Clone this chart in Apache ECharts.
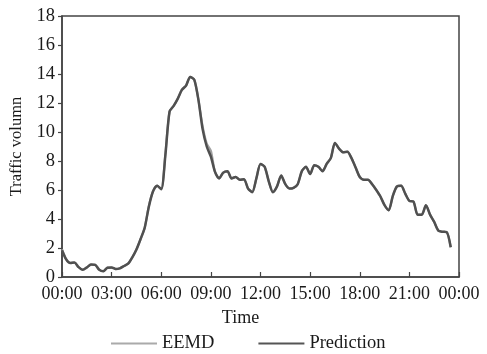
<!DOCTYPE html>
<html>
<head>
<meta charset="utf-8">
<script src="https://cdn.jsdelivr.net/npm/echarts@6/dist/echarts.min.js"></script>
<style>
  html, body { margin: 0; padding: 0; background: #fff; }
  #chart { width: 487px; height: 354px; }
</style>
</head>
<body>
<div id="chart"></div>
<script>
// Time of day in hours, sampled every 15 minutes (00:00 .. 23:30)
const hours = [
  0.00, 0.25, 0.50, 0.75, 1.00, 1.25, 1.50, 1.75, 2.00, 2.25, 2.50, 2.75,
  3.00, 3.25, 3.50, 3.75, 4.00, 4.25, 4.50, 4.75, 5.00, 5.25, 5.50, 5.75,
  6.00, 6.25, 6.50, 6.75, 7.00, 7.25, 7.50, 7.75, 8.00, 8.25, 8.50, 8.75,
  9.00, 9.25, 9.50, 9.75, 10.00, 10.25, 10.50, 10.75, 11.00, 11.25, 11.50, 11.75,
  12.00, 12.25, 12.50, 12.75, 13.00, 13.25, 13.50, 13.75, 14.00, 14.25, 14.50, 14.75,
  15.00, 15.25, 15.50, 15.75, 16.00, 16.25, 16.50, 16.75, 17.00, 17.25, 17.50, 17.75,
  18.00, 18.25, 18.50, 18.75, 19.00, 19.25, 19.50, 19.75, 20.00, 20.25, 20.50, 20.75,
  21.00, 21.25, 21.50, 21.75, 22.00, 22.25, 22.50, 22.75, 23.00, 23.25, 23.50
];

// Decomposed (EEMD) traffic volume
const eemd = [
  1.90, 1.25, 0.98, 1.00, 0.70, 0.50, 0.65, 0.85, 0.85, 0.50, 0.40, 0.65,
  0.65, 0.55, 0.60, 0.75, 0.93, 1.35, 1.90, 2.60, 3.40, 4.90, 5.90, 6.30,
  6.05, 8.50, 11.40, 11.80, 12.30, 12.95, 13.20, 13.80, 13.60, 12.20, 10.40, 9.20,
  8.70, 7.25, 6.80, 7.20, 7.30, 6.80, 6.90, 6.70, 6.75, 6.10, 5.85, 6.80,
  7.80, 7.60, 6.60, 5.85, 6.25, 7.00, 6.40, 6.10, 6.15, 6.40, 7.30, 7.60,
  7.10, 7.70, 7.60, 7.30, 7.80, 8.20, 9.25, 8.85, 8.60, 8.64, 8.20, 7.55,
  6.90, 6.70, 6.70, 6.40, 6.00, 5.55, 4.95, 4.60, 5.60, 6.25, 6.30, 5.75,
  5.25, 5.20, 4.30, 4.30, 4.95, 4.30, 3.80, 3.20, 3.12, 3.10, 2.05
];

// Model prediction of traffic volume
const prediction = [
  1.85, 1.22, 0.96, 1.00, 0.68, 0.50, 0.66, 0.86, 0.84, 0.50, 0.40, 0.64,
  0.66, 0.55, 0.60, 0.76, 0.92, 1.36, 1.90, 2.62, 3.40, 4.85, 5.90, 6.30,
  6.05, 8.40, 11.40, 11.80, 12.30, 12.90, 13.20, 13.80, 13.60, 12.20, 10.20, 9.00,
  8.30, 7.25, 6.80, 7.20, 7.30, 6.80, 6.90, 6.70, 6.75, 6.10, 5.85, 6.80,
  7.80, 7.60, 6.60, 5.85, 6.25, 7.00, 6.40, 6.10, 6.15, 6.40, 7.30, 7.60,
  7.10, 7.70, 7.60, 7.30, 7.80, 8.20, 9.25, 8.85, 8.60, 8.64, 8.20, 7.55,
  6.90, 6.70, 6.70, 6.40, 6.00, 5.55, 4.95, 4.60, 5.60, 6.25, 6.30, 5.75,
  5.25, 5.20, 4.30, 4.30, 4.95, 4.30, 3.80, 3.20, 3.12, 3.10, 2.05
];

const serif = '"Liberation Serif", "DejaVu Serif", serif';
const textColor = '#1a1a1a';
const pair = (vals) => hours.map((h, i) => [h, vals[i]]);
const hhmm = (h) => String(h % 24).padStart(2, '0') + ':00';

const chart = echarts.init(document.getElementById('chart'), null, { renderer: 'canvas' });
chart.setOption({
  animation: false,
  backgroundColor: '#fff',
  grid: {
    left: 60, right: 28, top: 16, bottom: 77,
    show: true, borderColor: '#444', borderWidth: 1.5, backgroundColor: 'transparent'
  },
  legend: {
    left: 106, top: 329,
    itemWidth: 46, itemHeight: 2, itemGap: 44,
    icon: 'rect',
    textStyle: { fontFamily: serif, fontSize: 18.5, color: textColor, padding: [0, 0, 0, 0] },
    data: [
      { name: 'EEMD', itemStyle: { color: '#aaa' } },
      { name: 'Prediction', itemStyle: { color: '#555' } }
    ]
  },
  xAxis: {
    type: 'value', min: 0, max: 24, interval: 3,
    name: 'Time', nameLocation: 'middle', nameGap: 32,
    nameTextStyle: { fontFamily: serif, fontSize: 18, color: textColor, padding: [0, 40, 0, 0] },
    axisLine: { lineStyle: { color: '#444', width: 1.5 } },
    axisTick: { inside: true, length: 5, lineStyle: { color: '#444', width: 1.2 } },
    axisLabel: { fontFamily: serif, fontSize: 18, color: textColor, margin: 8, formatter: hhmm },
    splitLine: { show: false }
  },
  yAxis: {
    type: 'value', min: 0, max: 18, interval: 2,
    name: 'Traffic volumn', nameLocation: 'middle', nameGap: 37, nameRotate: 90,
    nameTextStyle: { fontFamily: serif, fontSize: 16.5, color: textColor },
    axisLine: { show: true, lineStyle: { color: '#444', width: 1.5 } },
    axisTick: { show: true, inside: false, length: 4, lineStyle: { color: '#444', width: 1.2 } },
    axisLabel: { fontFamily: serif, fontSize: 18.5, color: textColor, margin: 7 },
    splitLine: { show: false }
  },
  series: [
    {
      name: 'EEMD', type: 'line', data: pair(eemd), symbol: 'none', smooth: 0.25,
      lineStyle: { color: '#a0a0a0', width: 2.2 }, itemStyle: { color: '#aaa' }, z: 2
    },
    {
      name: 'Prediction', type: 'line', data: pair(prediction), symbol: 'none', smooth: 0.25,
      lineStyle: { color: '#505050', width: 2.5 }, itemStyle: { color: '#555' }, z: 3
    }
  ]
});
</script>
</body>
</html>
